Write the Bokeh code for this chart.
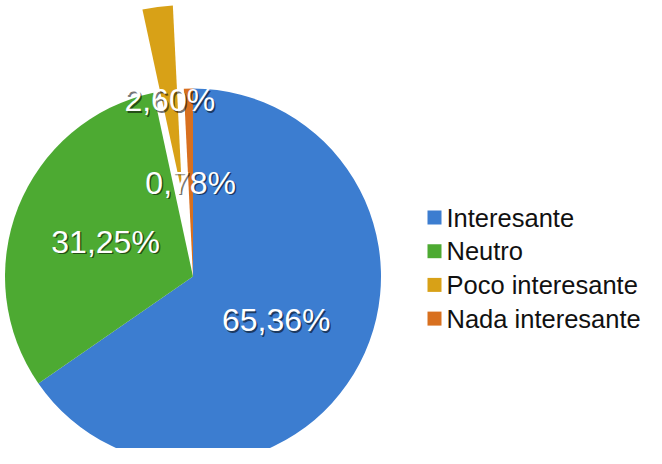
import math
from bokeh.plotting import figure
from bokeh.models import ColumnDataSource, Range1d
from bokeh.core.properties import value
from bokeh.embed import file_html
from bokeh.resources import INLINE

# ---- data ----
categories = ["Interesante", "Neutro", "Poco interesante", "Nada interesante"]
percents = [65.36, 31.25, 2.60, 0.78]
colors = ["#3C7DD0", "#4DAA32", "#D8A117", "#D8701F"]
explode = [0, 0, 84, 0]  # pixel offset of each slice along its bisector

# ---- layout (pixel coords; y down) ----
W, H = 646, 448
CX, CY, R = 192.5, 276, 188
LABEL_FR = 0.5

p = figure(width=W, height=H, output_backend="svg", toolbar_location=None,
           x_range=Range1d(0, W), y_range=Range1d(-H, 0),
           min_border=0, outline_line_color=None)
p.axis.visible = False
p.xgrid.visible = False
p.ygrid.visible = False
p.background_fill_color = "white"
p.border_fill_color = "white"

total = sum(percents)
xs, ys, starts, ends, lx, ly, labels = [], [], [], [], [], [], []
cum = 0.0
for v, e in zip(percents, explode):
    a0 = math.pi / 2 - 2 * math.pi * (cum + v) / total
    a1 = math.pi / 2 - 2 * math.pi * cum / total
    mid = (a0 + a1) / 2
    cx = CX + e * math.cos(mid)
    cy = -CY + e * math.sin(mid)
    xs.append(cx); ys.append(cy); starts.append(a0); ends.append(a1)
    lx.append(cx + LABEL_FR * R * math.cos(mid))
    ly.append(cy + LABEL_FR * R * math.sin(mid))
    labels.append(f"{v:.2f}".replace(".", ",") + "%")
    cum += v

src = ColumnDataSource(dict(x=xs, y=ys, s=starts, e=ends, c=colors,
                            lx=lx, ly=ly, t=labels,
                            sx=[x + 1.5 for x in lx], sy=[y - 1.5 for y in ly]))
p.wedge(x="x", y="y", radius=R, start_angle="s", end_angle="e",
        fill_color="c", line_color=None, source=src)

p.text(x="sx", y="sy", text="t", text_align="center", text_baseline="middle",
       text_font=value("Liberation Sans"), text_font_size="32px",
       text_color="black", text_alpha=0.55, source=src)
p.text(x="lx", y="ly", text="t", text_align="center", text_baseline="middle",
       text_font=value("Liberation Sans"), text_font_size="32px",
       text_color="white", source=src)

# ---- legend ----
LEG_X, LEG_Y0, LEG_DY, SQ = 434, 217, 33.7, 14
leg = ColumnDataSource(dict(
    x=[LEG_X] * len(categories),
    y=[-(LEG_Y0 + i * LEG_DY) for i in range(len(categories))],
    tx=[LEG_X + 12] * len(categories),
    t=categories, c=colors))
p.rect(x="x", y="y", width=SQ, height=SQ, fill_color="c", line_color=None, source=leg)
p.text(x="tx", y="y", text="t", text_align="left", text_baseline="middle",
       text_font=value("Liberation Sans"), text_font_size="25.5px",
       text_color="#111111", source=leg)

open("out.html", "w").write(file_html(p, INLINE))
